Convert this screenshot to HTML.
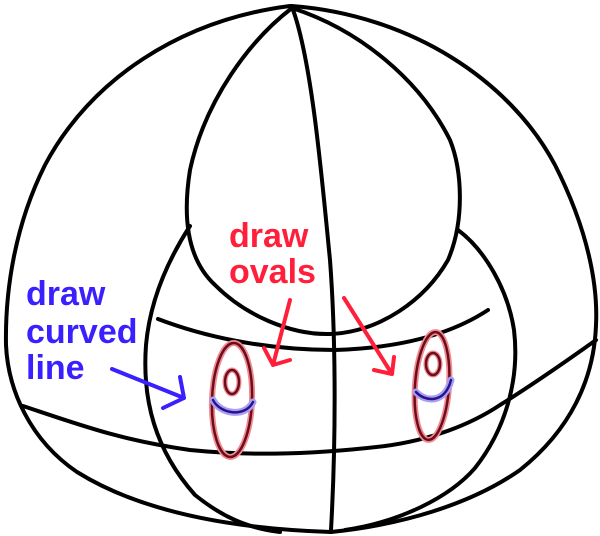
<!DOCTYPE html>
<html><head><meta charset="utf-8"><style>
html,body{margin:0;padding:0;background:#fff;}
svg{display:block;}
text{font-family:"Liberation Sans",Arial,sans-serif;font-weight:bold;font-size:34px;}
</style></head><body>
<svg width="600" height="536" viewBox="0 0 600 536" xmlns="http://www.w3.org/2000/svg">
<g fill="none" stroke="#000" stroke-width="4" stroke-linecap="round" stroke-linejoin="round">
<path d="M290,6 C180,20 90,80 45,165 C15,225 5,290 6,345 C8,390 30,440 77,472 C130,505 210,528 331,532"/>
<path d="M292,6 C410,15 510,80 555,165 C588,230 598,285 596,325 C594,380 570,430 520,470 C470,505 400,525 331,532"/>
<path d="M292,7 C312,60 322,180 330,260 C336,340 336,440 331,530"/>
<path d="M292,8 C250,40 205,100 190,170 C182,220 188,260 215,285 C245,315 290,335 330,334 C380,332 425,300 448,260 C465,220 462,170 450,140 C420,80 360,30 292,8"/>
<path d="M190,226 C168,260 150,300 146,345 C142,400 155,450 195,495 C220,515 245,528 280,532"/>
<path d="M458,230 C485,250 508,290 514,330 C520,380 505,430 475,468 C450,497 400,522 345,530"/>
<path d="M158,319 C200,335 260,350 335,350 C400,348 450,335 488,310"/>
<path d="M23,406 C80,425 120,440 190,450 C240,455 300,456 385,446 C430,440 470,425 500,405 C540,380 575,355 596,340"/>
</g>
<g fill="none" stroke-linecap="round">
<ellipse cx="232" cy="400" rx="20" ry="57" transform="rotate(2 232 400)" stroke="#f08a90" stroke-width="6"/>
<ellipse cx="232" cy="400" rx="20" ry="57" transform="rotate(2 232 400)" stroke="#6b0d1c" stroke-width="2.5"/>
<ellipse cx="232" cy="382" rx="7" ry="12" stroke="#f08a90" stroke-width="5"/>
<ellipse cx="232" cy="382" rx="7" ry="12" stroke="#6b0d1c" stroke-width="2.5"/>
<ellipse cx="432" cy="386" rx="17" ry="54" transform="rotate(4 432 386)" stroke="#f08a90" stroke-width="6"/>
<ellipse cx="432" cy="386" rx="17" ry="54" transform="rotate(4 432 386)" stroke="#6b0d1c" stroke-width="2.5"/>
<ellipse cx="433" cy="364" rx="7" ry="11" stroke="#f08a90" stroke-width="5"/>
<ellipse cx="433" cy="364" rx="7" ry="11" stroke="#6b0d1c" stroke-width="2.5"/>
<path d="M213,400 C220,414 245,418 253,402" stroke="#a7a0f0" stroke-width="7"/>
<path d="M213,400 C220,414 245,418 253,402" stroke="#2a1090" stroke-width="2.5"/>
<path d="M416,392 C425,402 445,404 451,380" stroke="#a7a0f0" stroke-width="7"/>
<path d="M416,392 C425,402 445,404 451,380" stroke="#2a1090" stroke-width="2.5"/>
</g>
<g fill="none" stroke="#ff1f3a" stroke-width="4" stroke-linecap="round" stroke-linejoin="round">
<path d="M290,300 L273,365 M264,348 L273,365 L290,360"/>
<path d="M344,298 L392,374 M374,370 L392,374 L394,357"/>
</g>
<g fill="none" stroke="#3a1fff" stroke-width="4" stroke-linecap="round" stroke-linejoin="round">
<path d="M112,369 L184,398 M180,377 L184,398 L163,408"/>
</g>
<text x="229" y="247" fill="#ff1f3a">draw</text>
<text x="229" y="283" fill="#ff1f3a">ovals</text>
<text x="26" y="305" fill="#3a1fff">draw</text>
<text x="26" y="343" fill="#3a1fff">curved</text>
<text x="26" y="379" fill="#3a1fff">line</text>
</svg>
</body></html>
